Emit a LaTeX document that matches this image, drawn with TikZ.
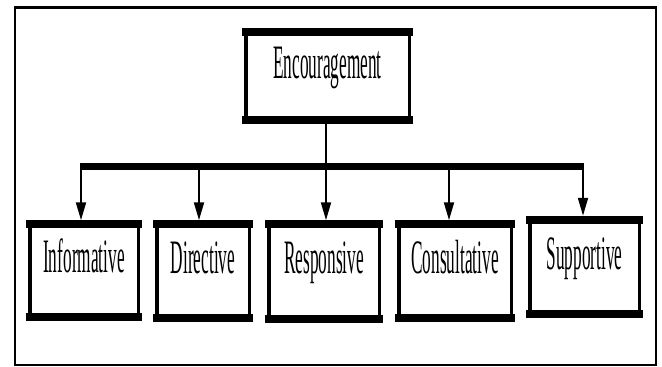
\documentclass[tikz,border=0pt]{standalone}
\usepackage{fontspec}
\setmainfont{Liberation Serif}[FakeStretch=0.36]
\usetikzlibrary{arrows.meta}

\begin{document}
\begin{tikzpicture}[x=1pt, y=-1pt,
    box/.style={draw, line width=3.5pt, inner sep=0pt, text height=0.65em, text depth=0.25em, font=\fontsize{48}{54}\selectfont},
    edge/.style={line width=8pt, shorten <=-1.75pt, shorten >=-1.75pt},
    arrow/.style={line width=2pt, -{Triangle[length=18pt, width=10pt]}}]
    \useasboundingbox (0,0) rectangle (662,367);

    % Draw outer frame
    \draw[line width=2pt] (15,8) rectangle (656,365);
    \draw[line width=3.5pt] (14,7.5) -- (657,7.5);

    % Draw boxes
    \node[box, minimum width=163.5pt, minimum height=88.5pt] (enc) at (327.5,76) {Encouragement};
    \node[box, minimum width=108.5pt, minimum height=93.5pt] (inf) at (84,270.5) {Informative};
    \node[box, minimum width=92.5pt, minimum height=94.5pt] (dir) at (203,271) {Directive};
    \node[box, minimum width=110.5pt, minimum height=95.5pt] (res) at (324,271.5) {Responsive};
    \node[box, minimum width=112.5pt, minimum height=94.5pt] (con) at (455,271) {Consultative};
    \node[box, minimum width=109.5pt, minimum height=95.5pt] (sup) at (584.5,267) {Supportive};

    % Thick top and bottom edges
    \foreach \n in {enc,inf,dir,res,con,sup} {
        \draw[edge] ([yshift=-2.25pt]\n.north west) -- ([yshift=-2.25pt]\n.north east);
        \draw[edge] ([yshift=2.25pt]\n.south west) -- ([yshift=2.25pt]\n.south east);
    }

    % Draw bus and links
    \coordinate (top) at (326,166.5);
    \coordinate (b1) at (81,166.5);
    \coordinate (b2) at (199,166.5);
    \coordinate (b3) at (326,166.5);
    \coordinate (b4) at (449,166.5);
    \coordinate (b5) at (583,166.5);
    \draw[line width=2pt] (enc.south -| top) -- (top);
    \draw[line width=7pt] ([xshift=-1pt]b1) -- ([xshift=1pt]b5);
    \foreach \c/\n in {b1/inf, b2/dir, b3/res, b4/con, b5/sup}
        \draw[arrow] (\c) -- ([yshift=1.75pt]\c |- \n.north);
\end{tikzpicture}
\end{document}
